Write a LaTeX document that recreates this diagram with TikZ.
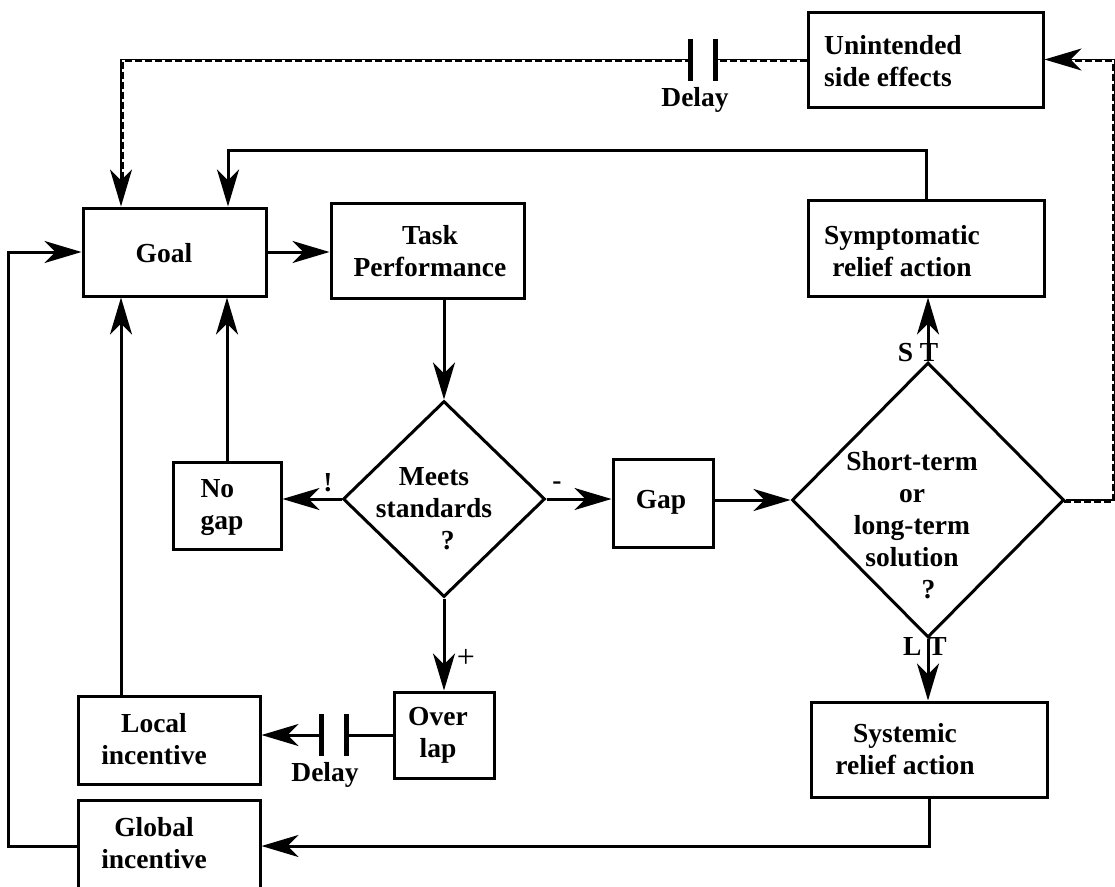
\documentclass[tikz,border=0pt]{standalone}
\usepackage{fontspec}
\setmainfont{Liberation Serif}
\usetikzlibrary{arrows.meta,shapes.geometric,positioning}

\begin{document}
\begin{tikzpicture}[x=1pt,y=-1pt,line width=3pt,>={Stealth[length=37pt,width=22pt,inset=11pt]},
	blk/.style={draw,inner sep=0pt},
	dia/.style={draw,diamond,inner sep=0pt},
	txt/.style={font=\fontsize{27.5}{32}\selectfont\bfseries,align=center,inner sep=0pt},
	bar/.style={line width=5pt},
	fb/.style={line width=1.6pt},
	fbd/.style={line width=2.6pt,dash pattern=on 7pt off 3pt},]
	\useasboundingbox (0,0) rectangle (1115,886);

	% boxes and decisions
	\node[blk,minimum width=183pt,minimum height=88pt] (goal) at (174.5,252) {};
	\node[blk,minimum width=193pt,minimum height=95pt] (task) at (427.5,250.5) {};
	\node[blk,minimum width=235pt,minimum height=95pt] (unint) at (925.5,59.5) {};
	\node[blk,minimum width=236pt,minimum height=96pt] (symp) at (926,248) {};
	\node[blk,minimum width=108pt,minimum height=87pt] (nogap) at (227,505.5) {};
	\node[blk,minimum width=100pt,minimum height=88pt] (gap) at (663,503) {};
	\node[blk,minimum width=100pt,minimum height=86pt] (over) at (444,735) {};
	\node[blk,minimum width=182pt,minimum height=88pt] (local) at (169,740) {};
	\node[blk,minimum width=236pt,minimum height=95pt] (syst) at (929,749.5) {};
	\node[blk,minimum width=182pt,minimum height=92pt] (glob) at (169,846) {};
	\node[dia,minimum width=202pt,minimum height=196pt] (meets) at (444,499) {};
	\node[dia,minimum width=272pt,minimum height=275pt] (st) at (928,500) {};

	% texts
	\node[txt] (goal-t) at (164,253) {Goal};
	\node[txt] (task-t) at (430,251) {Task\\Performance};
	\node[txt,align=left] (unint-t) at (893,61) {Unintended\\side effects};
	\node[txt] (symp-t) at (902,251) {Symptomatic\\relief action};
	\node[txt] (meets-t) at (434,509) {Meets\\standards\\\hspace{1em}?};
	\node[txt,align=left] (nogap-t) at (222,508) {No\\gap};
	\node[txt] (gap-t) at (661,502) {Gap};
	\node[txt] (st-t) at (912,525) {Short-term\\or\\long-term\\solution\\\hspace{1.2em}?};
	\node[txt] (over-t) at (438,735) {Over\\lap};
	\node[txt] (local-t) at (154,739) {Local\\incentive};
	\node[txt] (glob-t) at (154,843) {Global\\incentive};
	\node[txt] (syst-t) at (905,749) {Systemic\\relief action};
	\node[txt] (dly1) at (695,100) {Delay};
	\node[txt] (dly2) at (325,775) {Delay};
	\node[txt] (lbl-no) at (328,483) {!};
	\node[txt] (lbl-neg) at (557,486) {-};
	\node[txt,font=\fontsize{32}{36}\selectfont] (lbl-pos) at (466,658) {+};
	\node[txt] (lbl-st) at (918,353) {S T};
	\node[txt] (lbl-lt) at (925,646) {L T};

	% delays
	\coordinate[left=91pt of unint.west] (dl1);
	\coordinate[left=25pt of dl1] (dl2);
	\coordinate[left=46pt of over.west] (dl3);
	\coordinate[left=25pt of dl3] (dl4);
	\foreach \d in {dl1,dl2,dl3,dl4}
		\draw[bar] ([yshift=21pt]\d) -- ([yshift=-21pt]\d);

	% main loop
	\draw[->] (goal.east) -- (goal.east -| task.west);
	\draw[->] (task.south -| meets.north) -- (meets.north);
	\draw[->] (meets.west) -- (meets.west -| nogap.east);
	\draw[->] (meets.east) -- (meets.east -| gap.west);
	\draw[->] (meets.south) -- (over.north);
	\draw[->] (st.west -| gap.east) -- (st.west);
	\draw[->] (st.north) -- (st.north |- symp.south);
	\draw[->] (st.south) -- (st.south |- syst.north);
	\draw[->] (nogap.north) -- (nogap.north |- goal.south);
	\draw[->] ([xshift=-48pt]local.north) -- ([xshift=-53.5pt]goal.south);
	\draw (over.west) -- (dl3);
	\draw[->] (dl4) -- (dl4 -| local.east);
	\draw[->] (symp.north) -- ++(0,-48) -| ([xshift=53.5pt]goal.north);
	\draw[->] (syst.south) |- (glob.east);
	\draw[->] (glob.west) -- ++(-68,0) |- (goal.west);

	% side effects (dashed)
	\draw[fbd,transform canvas={shift={(-1.6pt,-1.6pt)}},shorten >=22pt] (st.east) -- ++(49,0) |- (unint.east);
	\draw[fb,->] (st.east) -- ++(49,0) |- (unint.east);
	\draw[fbd,transform canvas={shift={(0pt,-1.6pt)}}] (unint.west) -- (dl1);
	\draw[fb] (unint.west) -- (dl1);
	\draw[fbd,transform canvas={shift={(1.6pt,-1.6pt)}},shorten >=22pt] (dl2) -| ([xshift=-53.5pt]goal.north);
	\draw[fb,->] (dl2) -| ([xshift=-53.5pt]goal.north);
\end{tikzpicture}
\end{document}
